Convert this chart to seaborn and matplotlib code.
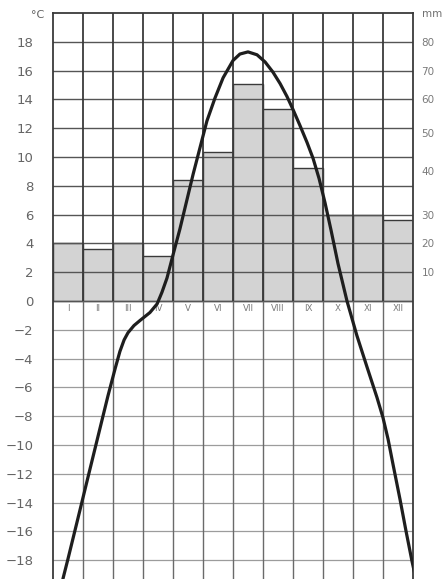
import numpy as np
import matplotlib
matplotlib.use('Agg')
import matplotlib.pyplot as plt
import seaborn as sns

# monthly precipitation (mm)
months = ['I', 'II', 'III', 'IV', 'V', 'VI', 'VII', 'VIII', 'IX', 'X', 'XI', 'XII']
precip_mm = [20, 18, 20, 15.5, 38, 45, 65.5, 57, 41, 30, 30, 28]

# temperature curve (month number, °C)
curve_month = [0.83, 1.00, 1.33, 1.67, 2.00, 2.33, 2.57, 2.73, 2.87, 3.00,
               3.20, 3.40, 3.73, 3.97, 4.13, 4.30, 4.50, 4.73, 5.17, 5.63,
               5.90, 6.17, 6.50, 6.73, 7.00, 7.30, 7.57, 7.83, 8.07, 8.30,
               8.50, 8.73, 8.97, 9.17, 9.37, 9.57, 9.77, 10.00, 10.30, 10.63,
               10.97, 11.30, 11.50, 11.67, 11.83, 12.07, 12.27, 12.47, 12.63]
curve_temp = [-19.3, -17.9, -15.1, -12.2, -9.4, -6.6, -4.7, -3.5, -2.7, -2.2,
              -1.7, -1.35, -0.8, -0.2, 0.6, 1.6, 3.2, 5.0, 8.8, 12.5,
              14.1, 15.5, 16.7, 17.15, 17.3, 17.1, 16.6, 15.9, 15.1, 14.2,
              13.3, 12.2, 11.0, 9.9, 8.5, 6.8, 4.9, 2.6, 0.0, -2.4,
              -4.6, -6.7, -8.1, -9.6, -11.3, -13.8, -16.0, -18.1, -19.6]

temp_ticks = list(range(-18, 19, 2))
mm_ticks = [10, 20, 30, 40, 50, 60, 70, 80]
# where the mm labels sit against the °C grid (the printed scale is uneven)
mm_anchor = [-100, 0, 10, 20, 30, 40, 50, 60, 70, 80, 120]
mm_anchor_c = [-20, 0, 2, 4, 6, 9, 11.7, 14, 16, 18, 27]

sns.set_style('white')
plt.rcParams['font.family'] = ['DejaVu Sans']

fig = plt.figure(figsize=(4.46, 5.79), dpi=100)
ax = fig.add_axes([53/446, 0, 360/446, 1 - 13/579])
ax2 = ax.twinx()

# precipitation bars on the right-hand axis
sns.barplot(x=months, y=precip_mm, ax=ax2, width=1, color='#d3d3d3',
            edgecolor='#3a3a3a', linewidth=1.0, saturation=1)

fwd = lambda v: np.interp(v, mm_anchor, mm_anchor_c)
inv = lambda v: np.interp(v, mm_anchor_c, mm_anchor)
ax2.set_yscale('function', functions=(fwd, inv))

ylo, yhi = -19.3, 20
ax2.set_ylim(inv(ylo), inv(yhi))
ax2.set_yticks(mm_ticks)
ax2.set_yticklabels([str(v) for v in mm_ticks])
ax2.tick_params(axis='y', length=0, pad=6, labelsize=7.5, labelcolor='#7a7a7a')
ax2.set_ylabel('')
ax2.set_xlabel('')
for s in ax2.spines.values():
    s.set_visible(False)

# temperature curve on the left-hand axis, drawn above the bars
ax.set_zorder(ax2.get_zorder() + 1)
ax.patch.set_visible(False)
sns.lineplot(x=np.array(curve_month) - 1, y=curve_temp, ax=ax, sort=False,
             estimator=None, color='#1e1e1e', linewidth=2.3, zorder=5,
             solid_joinstyle='round', solid_capstyle='round')

ax.set_xlim(-0.5, 11.5)
ax.set_ylim(ylo, yhi)
ax.set_xticks([])
ax.set_yticks(temp_ticks)
ax.set_yticklabels([f'{t}'.replace('-', '\u2212') for t in temp_ticks])
ax.tick_params(axis='y', length=0, pad=14, labelsize=9.5, labelcolor='#656565')
ax.tick_params(axis='x', which='both', length=0)

# grid: darker above 0 °C, lighter below
ax.grid(axis='y', which='major')
for gl, t in zip(ax.get_ygridlines(), temp_ticks):
    if t >= 0:
        gl.set_color('#555555'); gl.set_linewidth(1.0)
    else:
        gl.set_color('#9c9c9c'); gl.set_linewidth(0.9)
col_edges = np.arange(-0.5, 12, 1)
ax.vlines(col_edges[1:-1], 0, yhi, color='#3a3a3a', linewidth=1.3, zorder=2)
ax.vlines(col_edges[1:-1], ylo, 0, color='#6a6a6a', linewidth=1.0, zorder=2)

ax.set_xlabel('')
ax.set_ylabel('')
for s in ['left', 'right', 'top']:
    ax.spines[s].set_color('#3a3a3a')
    ax.spines[s].set_linewidth(1.3)
ax.spines['bottom'].set_visible(False)

for i, m in enumerate(months):
    ax.text(i, -0.55, m, ha='center', va='center', fontsize=6.3, color='#7a7a7a')

fig.text(38/446, 1 - 15/579, '\u00b0C', ha='center', va='center', fontsize=8, color='#606060')
fig.text(432/446, 1 - 14/579, 'mm', ha='center', va='center', fontsize=7.5, color='#707070')

fig.savefig('out.png', dpi=100, facecolor='white')
